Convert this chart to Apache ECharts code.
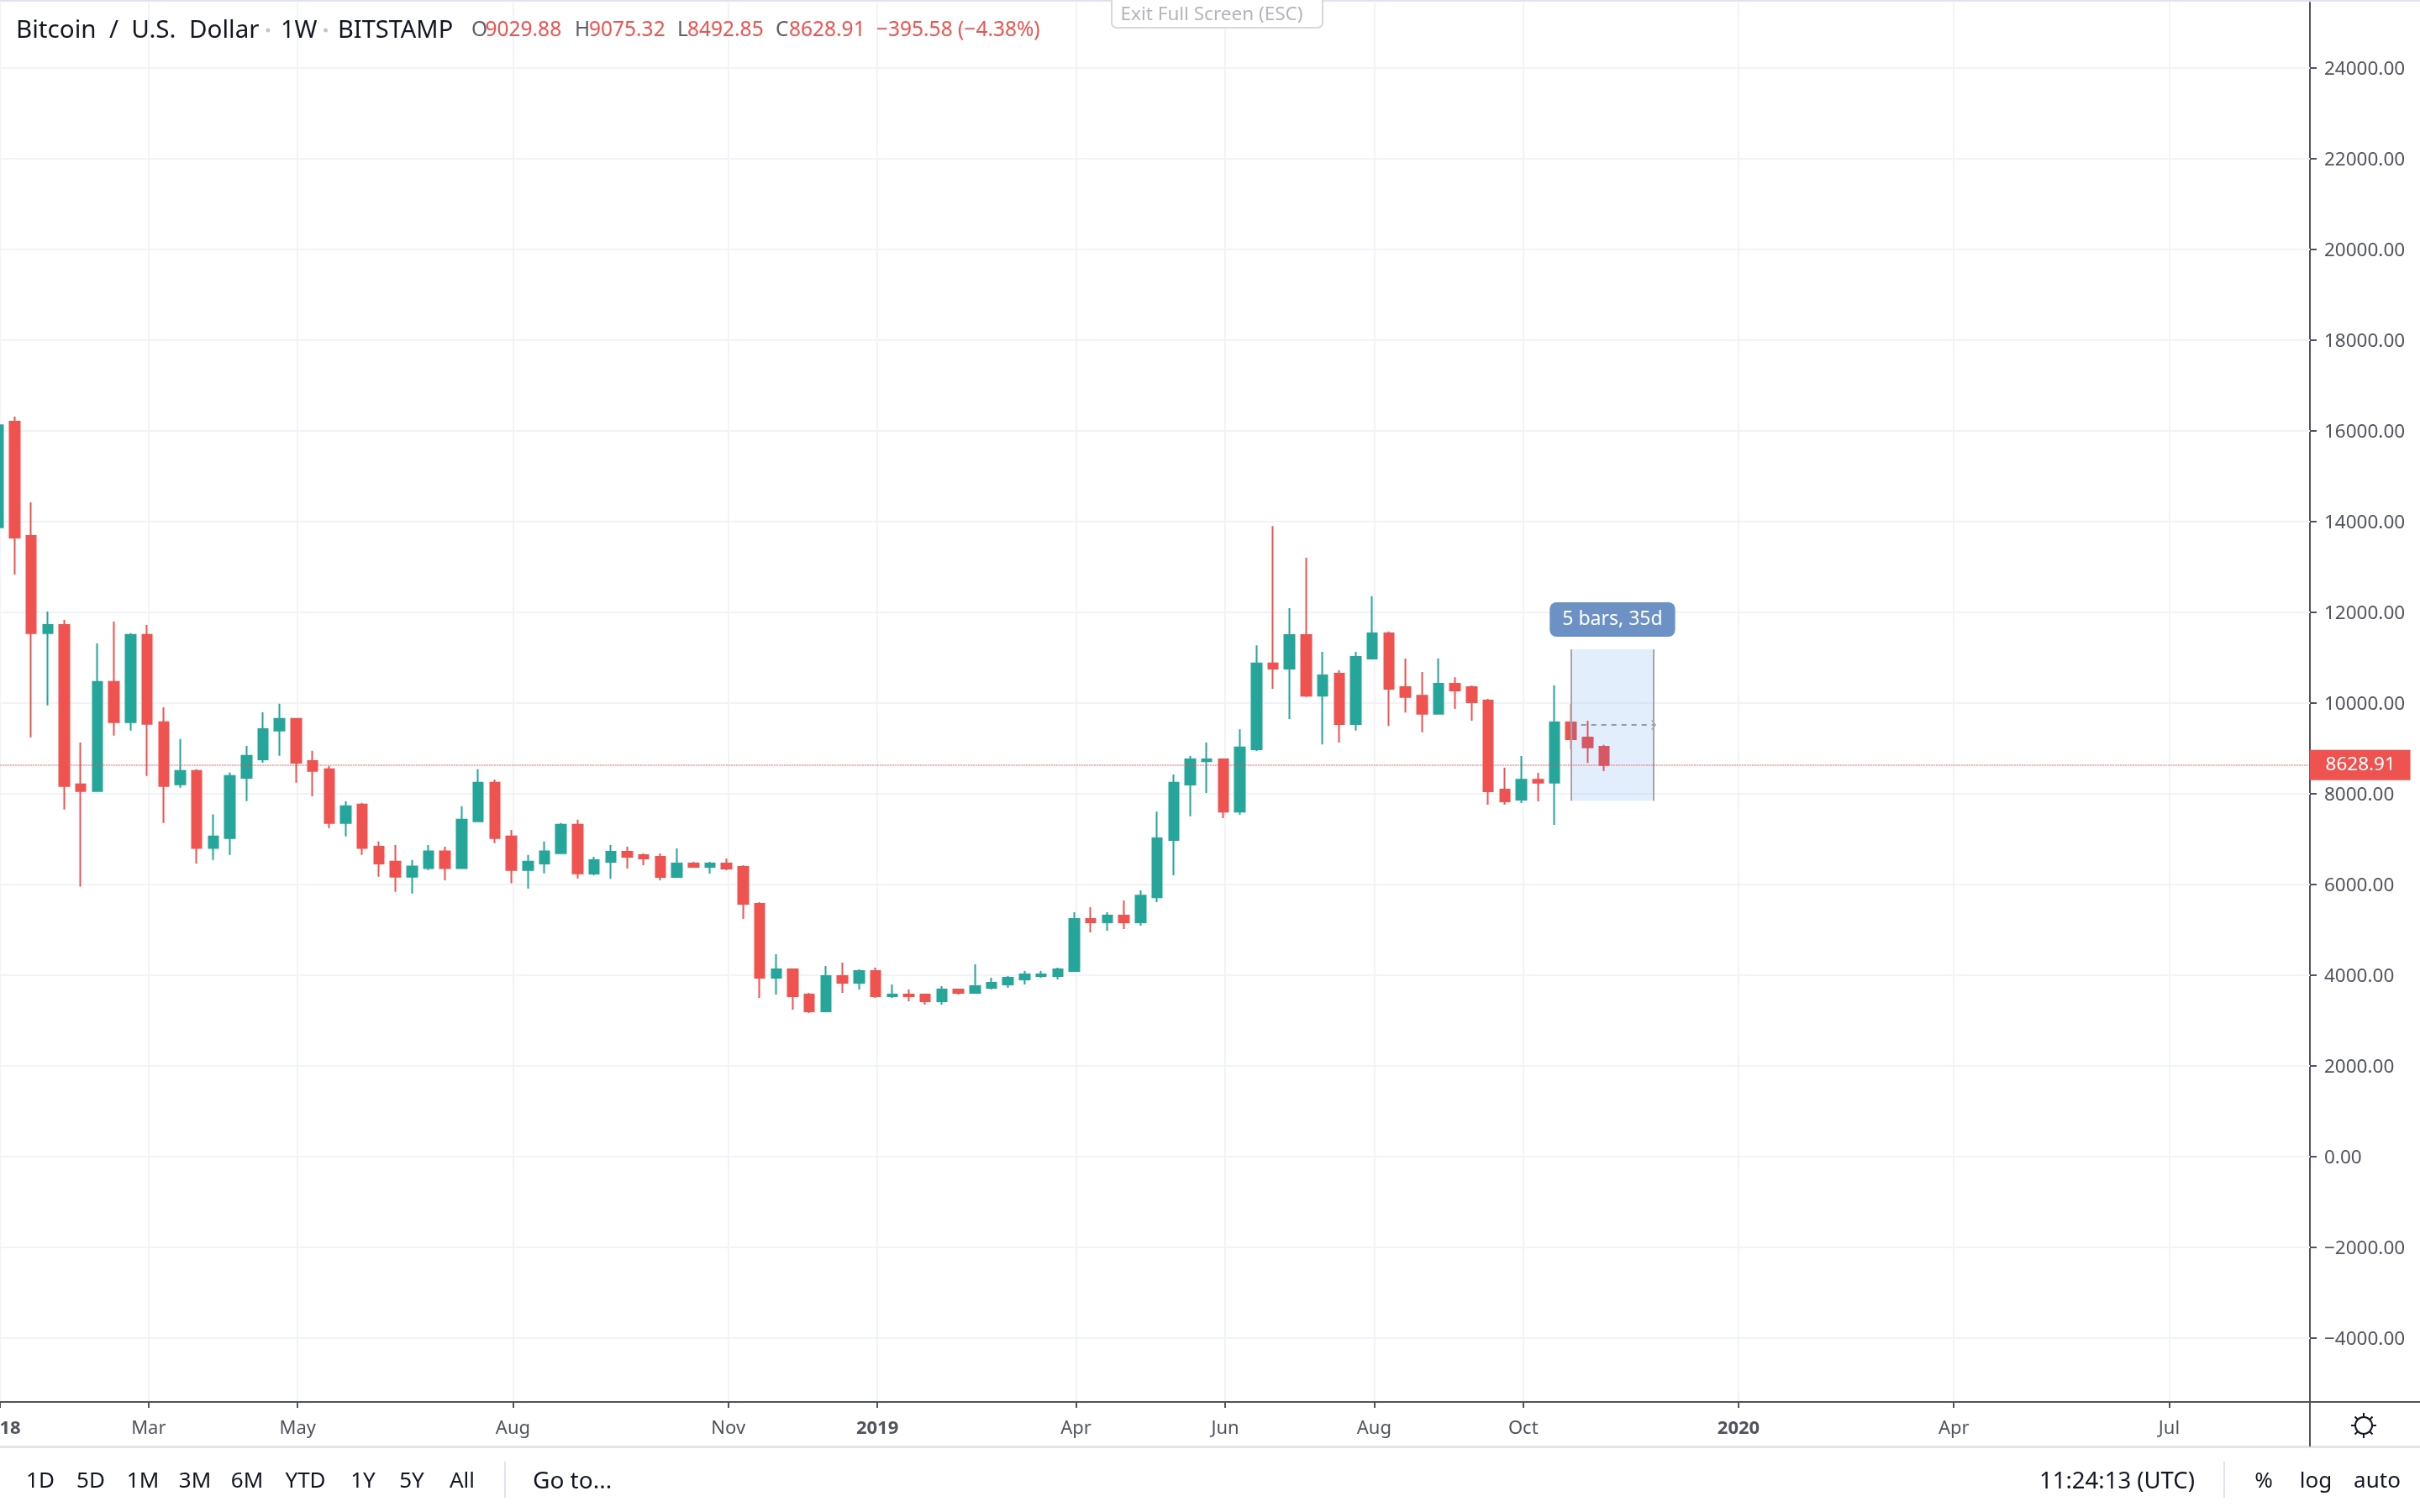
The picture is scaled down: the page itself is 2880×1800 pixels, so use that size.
<!DOCTYPE html>
<html>
<head>
<meta charset="utf-8">
<style>html,body{margin:0;padding:0;background:#fff}#c{width:2880px;height:1800px}</style>
<script src="https://cdn.jsdelivr.net/npm/echarts@6/dist/echarts.min.js"></script>
</head>
<body>
<div id="c"></div>
<script>
const FONT = '"Noto Sans"';
const opens  = [13870,16196,13681,11536,11717,8204,8053,10463,9571,11498,9571,8204,8499,6799,7018,8348,8756,9390,9647,8718,8537,7351,7759,6830,6497,6165,6354,6724,6354,7388,8242,7056,6316,6459,6686,7313,6235,6494,6716,6642,6605,6160,6457,6383,6457,6383,5569,3939,4124,3569,3198,3976,3828,4087,3532,3569,3569,3420,3680,3606,3717,3791,3902,3976,3976,4087,5235,5161,5309,5161,5713,6975,8200,8714,8752,7602,8978,10868,10755,11495,10157,10641,9530,10974,11533,10346,10157,9757,10422,10346,10052,8086,7867,8305,8238,9568,9235,9029.88];
const closes = [16121,13643,11536,11717,8166,8053,10463,9571,11498,9534,8166,8499,6799,7056,8386,8831,9420,9647,8680,8499,7351,7721,6799,6459,6165,6391,6724,6354,7426,8242,7018,6316,6497,6724,7313,6240,6531,6716,6605,6568,6160,6457,6383,6457,6346,5569,3939,4124,3532,3198,3976,3828,4087,3532,3569,3532,3420,3680,3606,3754,3828,3939,4013,4013,4124,5235,5161,5309,5161,5751,7013,8238,8752,8752,7602,9016,10868,10755,11495,10157,10604,9530,11012,11533,10309,10127,9757,10422,10271,10014,8049,7829,8305,8238,9568,9197,9016,8628.91];
const lows   = [13200,12827,9239,9942,7645,5946,8053,9277,9390,8386,7351,8129,6459,6535,6648,7834,8680,8831,8242,7940,7237,7056,6648,6165,5832,5794,6316,6089,6354,7388,6905,6021,5908,6240,6686,6127,6197,6123,6346,6420,6086,6160,6383,6235,6309,5234,3494,3569,3235,3161,3198,3606,3680,3494,3494,3420,3346,3346,3569,3606,3680,3717,3791,3939,3902,4087,4939,4976,5013,5085,5607,6197,7497,8011,7459,7534,8941,10309,9643,10127,9084,9122,9386,10974,9492,9787,9349,9757,9863,9606,7754,7754,7791,7829,7308,8978,8676,8492.85];
const highs  = [17200,16310,14421,12011,11830,9126,11309,11792,11536,11717,9904,9201,8537,7540,8461,9050,9790,9979,9647,8945,8612,7834,7796,6943,6867,6535,6867,6830,7721,8537,8310,7200,6648,6943,7351,7426,6605,6864,6827,6679,6679,6790,6494,6494,6568,6420,5606,4457,4124,3606,4198,4272,4124,4161,3791,3680,3569,3754,3680,4235,3939,3976,4087,4087,4161,5383,5495,5383,5643,5864,7602,8419,8827,9122,8752,9417,11269,13899,12085,13196,11125,10717,11125,12350,11571,10974,10679,10974,10566,10384,10089,8570,8827,8457,10384,9976,9606,9075.32];

const slotCount = 140;
const firstWeekUTC = Date.UTC(2018, 0, 1);
const weekDates = [];
for (let i = 0; i < slotCount; i++) {
  weekDates.push(new Date(firstWeekUTC + i * 7 * 86400000).toISOString().slice(0, 10));
}
const xTickDates  = ['2018-01-01','2018-03-05','2018-05-07','2018-08-06','2018-11-05','2019-01-07','2019-04-01','2019-06-03','2019-08-05','2019-10-07','2020-01-06','2020-04-06','2020-07-06'];
const xTickLabels = ['2018','Mar','May','Aug','Nov','2019','Apr','Jun','Aug','Oct','2020','Apr','Jul'];
const yTicks = [-4000,-2000,0,2000,4000,6000,8000,10000,12000,14000,16000,18000,20000,22000,24000];
const lastPrice = 8628.91;
const rangeStart = '2019-10-28';
const rangeEnd   = '2019-12-02';
const rangeTop = 11180, rangeBottom = 7843, rangeMid = 9513;
const rangeLabel = '5 bars, 35d';
const intervalButtons = ['1D','5D','1M','3M','6M','YTD','1Y','5Y','All'];

const AXIS_C = '#50535e', GRID_C = '#f0f4f8', UP = '#26a69a', DOWN = '#ef5350', EDGE = '#a3a6af';
const yMin = -5413, yMax = 25439;
const isTick = (i) => xTickDates.includes(weekDates[i]);
const fmtPrice = (v) => (v < 0 ? '\u2212' : '') + Math.abs(v).toFixed(2);

function txt(text, x, y, size, fill, align, weight) {
  return {type:'text', z:200, silent:true, style:{text, x, y, fill, font:(weight||'normal')+' '+size+'px '+FONT,
    textAlign:align||'left', textVerticalAlign:'middle'}};
}
function line(x1,y1,x2,y2,stroke,w){
  return {type:'line', z:190, silent:true, shape:{x1,y1,x2,y2}, style:{stroke, lineWidth:w||2}};
}
const gearSpokes = [];
[[0,-1],[0,1],[1,0],[-1,0],[.7,.7],[-.7,.7],[.7,-.7],[-.7,-.7]].forEach(d=>{
  gearSpokes.push(line(2813+d[0]*10,1697+d[1]*10,2813+d[0]*15,1697+d[1]*15,'#131722',2));
});
const btnX = [48,108,170,232,294,363.5,432,490,550];
const HY = 36.5, TY = 1764;

const chrome = [
  {type:'rect', z:150, silent:true, shape:{x:0,y:0,width:2880,height:2}, style:{fill:'#e0e3eb'}},
  line(2749,1669,2880,1669,AXIS_C,2),
  line(2749,1669,2749,1722,AXIS_C,2),
  {type:'rect', z:150, silent:true, shape:{x:0,y:1721,width:2880,height:3}, style:{fill:'#e0e3eb'}},
  line(601,1740,601,1783,'#e0e3eb',2),
  line(2647,1740,2647,1783,'#e0e3eb',2),
  {type:'rect', z:160, silent:true, shape:{x:1323,y:-6,width:251,height:39,r:6}, style:{fill:'#fff',stroke:'#d6d8de',lineWidth:2}},
  txt('Exit Full Screen (ESC)',1442,18,22.5,'#b2b5be','center'),
  txt('Bitcoin  /  U.S.  Dollar',19,HY,29.6,'#131722'),
  {type:'circle', z:200, silent:true, shape:{cx:319,cy:36,r:2.5}, style:{fill:'#c4c6ce'}},
  txt('1W',334,HY,29,'#131722'),
  {type:'circle', z:200, silent:true, shape:{cx:387.5,cy:36,r:2.5}, style:{fill:'#c4c6ce'}},
  txt('BITSTAMP',402,HY,29,'#131722'),
  txt('O',561,HY,24.5,'#5d606b'), txt('9029.88',577.5,HY,24.5,DOWN),
  txt('H',684,HY,24.5,'#5d606b'), txt('9075.32',701,HY,24.5,DOWN),
  txt('L',806,HY,24.5,'#5d606b'), txt('8492.85',818,HY,24.5,DOWN),
  txt('C',923,HY,24.5,'#5d606b'), txt('8628.91',939,HY,24.5,DOWN),
  txt('\u2212395.58 (\u22124.38%)',1043,HY,24.5,DOWN),
  txt('Go to...',634,TY,28,'#131722'),
  txt('11:24:13 (UTC)',2427,TY,27.5,'#131722'),
  txt('%',2694,TY,26,'#131722','center'),
  txt('log',2756,TY,26,'#131722','center'),
  txt('auto',2829,TY,26,'#131722','center'),
  {type:'circle', z:190, silent:true, shape:{cx:2813,cy:1697,r:10}, style:{fill:'#fff',stroke:'#131722',lineWidth:2}}
].concat(gearSpokes).concat(intervalButtons.map((b,i)=>txt(b,btnX[i],TY,26,'#131722','center')));

const chart = echarts.init(document.getElementById('c'), null, {renderer:'canvas', width:2880, height:1800});
chart.setOption({
  animation:false,
  backgroundColor:'#ffffff',
  textStyle:{fontFamily:FONT},
  grid:[
    {left:-12.15, width:2758.7, top:3, height:1666, outerBoundsMode:'none'},
    {left:-10.4,  width:2759.4, top:3, height:1666, outerBoundsMode:'none'}
  ],
  xAxis:[
    {type:'category', gridIndex:0, data:weekDates, show:false, boundaryGap:true},
    {type:'category', gridIndex:1, data:weekDates, boundaryGap:true,
      axisLine:{show:true, onZero:false, lineStyle:{color:AXIS_C,width:2}},
      axisTick:{show:true, alignWithLabel:true, length:7, interval:(i)=>isTick(i), lineStyle:{color:AXIS_C,width:2}},
      splitLine:{show:true, alignWithLabel:true, interval:(i)=>isTick(i), lineStyle:{color:GRID_C,width:2}},
      axisLabel:{show:true, interval:(i)=>isTick(i), margin:21, fontSize:22, color:AXIS_C, fontFamily:FONT, hideOverlap:false,
        formatter:(v)=>{const l=xTickLabels[xTickDates.indexOf(v)]; return /^\d{4}$/.test(l)?'{b|'+l+'}':l;},
        rich:{b:{fontWeight:'bold',fontSize:22,color:AXIS_C,fontFamily:FONT}}}
    }
  ],
  yAxis:[
    {type:'value', gridIndex:0, show:false, min:yMin, max:yMax, splitLine:{show:false}},
    {type:'value', gridIndex:1, position:'right', min:yMin, max:yMax,
      axisLine:{show:true,onZero:false,lineStyle:{color:AXIS_C,width:2}},
      axisTick:{show:true,length:8,customValues:yTicks,lineStyle:{color:AXIS_C,width:2}},
      splitLine:{show:false},
      axisLabel:{show:true,margin:17,customValues:yTicks,fontSize:22.5,color:AXIS_C,fontFamily:FONT,
        formatter:(v)=>'{p|'+fmtPrice(v)+'}',
        rich:{p:{fontSize:22.5,color:AXIS_C,fontFamily:FONT,padding:[4,0,0,0]}}}}
  ],
  series:[
    {type:'line', name:'grid', xAxisIndex:1, yAxisIndex:1, z:1, data:[], silent:true, symbol:'none',
      markLine:{silent:true, z:1, symbol:'none', label:{show:false}, animation:false,
        lineStyle:{color:GRID_C,width:2,type:'solid'}, data:yTicks.map(v=>({yAxis:v}))}},
    {type:'line', name:'range', xAxisIndex:0, yAxisIndex:0, z:2, data:[], silent:true, symbol:'none',
      markLine:{silent:true, z:2, symbol:'none', label:{show:false}, animation:false,
        data:[[{coord:[rangeStart,rangeMid],symbol:'none',lineStyle:{color:'#9ea1a9',width:2,type:[6,6]}},
               {coord:[rangeEnd,rangeMid],symbol:'path://M0,0L10,10L8.5,11.5L0,3L-8.5,11.5L-10,10Z',symbolSize:[12,6]}]]}},
    {type:'candlestick', name:'BTCUSD', xAxisIndex:0, yAxisIndex:0, z:3, barWidth:12, silent:true,
      data:opens.map((o,i)=>[o,closes[i],lows[i],highs[i]]),
      itemStyle:{color:UP,color0:DOWN,borderColor:UP,borderColor0:DOWN,borderWidth:2},
      markArea:{silent:true, z:4, animation:false,
        itemStyle:{color:'rgba(40,120,240,0.13)'},
        label:{show:true, position:'top', distance:15, formatter:rangeLabel, color:'#ffffff', fontSize:23, fontFamily:FONT,
          backgroundColor:'#6c91c4', borderRadius:8, padding:[9,15,9,15]},
        data:[[{coord:[rangeStart,rangeTop]},{coord:[rangeEnd,rangeBottom]}]]},
      markLine:{silent:true, z:5, symbol:'none', animation:false,
        data:[
          [{coord:[rangeStart,rangeTop],lineStyle:{color:EDGE,width:2,type:'solid'},label:{show:false}},{coord:[rangeStart,rangeBottom]}],
          [{coord:[rangeEnd,rangeTop],lineStyle:{color:EDGE,width:2,type:'solid'},label:{show:false}},{coord:[rangeEnd,rangeBottom]}],
          {yAxis:lastPrice, lineStyle:{color:'rgba(239,83,80,0.45)',width:2,type:[2,1]},
            label:{show:true, position:'end', distance:2, formatter:()=>lastPrice.toFixed(2), color:'#fff', fontSize:22.5, fontFamily:FONT,
              backgroundColor:DOWN, width:101, align:'left', padding:[7,0,7,19], lineHeight:22}}
        ]}
    }
  ],
  graphic:chrome
});
</script>
</body>
</html>
